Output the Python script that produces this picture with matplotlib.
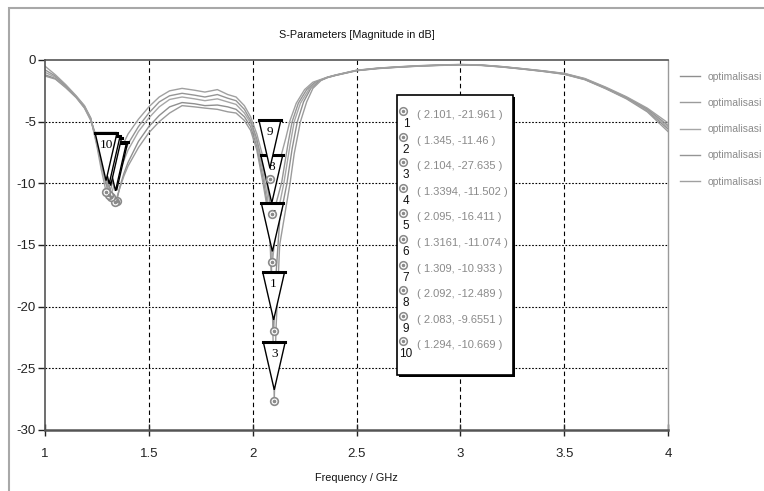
import matplotlib.pyplot as plt
from matplotlib.lines import Line2D
from matplotlib.patches import Polygon, Rectangle
from matplotlib.path import Path
from matplotlib.transforms import ScaledTranslation

W, H = 764, 491
plt.rcParams["font.family"] = ["Liberation Sans", "DejaVu Sans"]
plt.rcParams["axes.unicode_minus"] = False

# S11 curves (frequency in GHz, magnitude in dB)
freq_1 = [1.0, 1.05, 1.10, 1.15, 1.19, 1.22, 1.25, 1.27, 1.29, 1.32, 1.345, 1.36, 1.38, 1.40,
          1.45, 1.50, 1.55, 1.60, 1.66, 1.72, 1.77, 1.83, 1.88, 1.92, 1.96, 1.99, 2.02, 2.05,
          2.07, 2.085, 2.095, 2.101, 2.11, 2.13, 2.165, 2.19, 2.215, 2.245, 2.28, 2.32,
          2.36, 2.4, 2.5, 2.6, 2.7, 2.8, 2.9, 3.0, 3.1, 3.2, 3.3, 3.4, 3.5, 3.6, 3.7, 3.8,
          3.9, 4.0]
db_1 = [-1.2, -1.5, -2.2, -3.0, -3.85, -4.8, -6.4, -7.9, -9.2, -10.8, -11.46, -10.3, -9.2,
        -8.3, -6.6, -5.4, -4.5, -3.8, -3.45, -3.55, -3.7, -3.65, -3.8, -4.0, -4.6, -5.4, -7.0,
        -9.6, -11.6, -14.6, -18.8, -21.961, -18.0, -13.0, -10.0, -7.2, -5.0, -3.4, -2.3, -1.7,
        -1.42, -1.24, -0.86, -0.69, -0.58, -0.49, -0.43, -0.39, -0.43, -0.56, -0.73, -0.92,
        -1.14, -1.58, -2.3, -3.1, -4.1, -5.6]

freq_2 = [1.0, 1.05, 1.10, 1.15, 1.19, 1.22, 1.25, 1.27, 1.29, 1.315, 1.3394, 1.36, 1.38,
          1.40, 1.45, 1.50, 1.55, 1.60, 1.66, 1.72, 1.77, 1.83, 1.88, 1.92, 1.96, 1.99, 2.02,
          2.05, 2.07, 2.085, 2.095, 2.104, 2.112, 2.13, 2.18, 2.20, 2.23, 2.26, 2.29, 2.33,
          2.36, 2.4, 2.5, 2.6, 2.7, 2.8, 2.9, 3.0, 3.1, 3.2, 3.3, 3.4, 3.5, 3.6, 3.7, 3.8,
          3.9, 4.0]
db_2 = [-1.3, -1.55, -2.25, -3.05, -3.9, -4.9, -6.5, -8.0, -9.3, -10.7, -11.502, -10.4,
        -9.4, -8.6, -7.1, -5.9, -5.0, -4.3, -3.7, -3.8, -3.9, -4.0, -4.2, -4.3, -4.9, -5.7,
        -7.3, -10.0, -12.0, -15.2, -20.0, -27.635, -22.0, -15.0, -10.0, -7.6, -5.0, -3.4,
        -2.3, -1.65, -1.43, -1.25, -0.87, -0.7, -0.59, -0.5, -0.44, -0.4, -0.44, -0.57,
        -0.74, -0.93, -1.16, -1.6, -2.33, -3.15, -4.2, -5.8]

freq_3 = [1.0, 1.05, 1.10, 1.15, 1.19, 1.22, 1.25, 1.27, 1.29, 1.3161, 1.335, 1.36, 1.40,
          1.45, 1.50, 1.55, 1.60, 1.66, 1.72, 1.77, 1.83, 1.88, 1.92, 1.96, 1.99, 2.02, 2.05,
          2.07, 2.085, 2.095, 2.105, 2.12, 2.15, 2.18, 2.20, 2.23, 2.27, 2.31,
          2.36, 2.4, 2.5, 2.6, 2.7, 2.8, 2.9, 3.0, 3.1, 3.2, 3.3, 3.4, 3.5, 3.6, 3.7, 3.8,
          3.9, 4.0]
db_3 = [-1.0, -1.4, -2.15, -3.0, -3.8, -4.8, -6.6, -8.2, -9.6, -11.074, -10.0, -9.0, -7.3,
        -5.8, -4.7, -3.8, -3.2, -3.0, -3.15, -3.3, -3.15, -3.4, -3.6, -4.3, -5.1, -6.7, -9.1,
        -11.0, -13.2, -16.411, -14.8, -12.5, -10.0, -6.9, -5.0, -3.5, -2.4, -1.75,
        -1.41, -1.23, -0.85, -0.68, -0.57, -0.48, -0.42, -0.38, -0.42, -0.55, -0.72, -0.9,
        -1.12, -1.55, -2.27, -3.07, -4.05, -5.45]

freq_4 = [1.0, 1.05, 1.10, 1.15, 1.19, 1.22, 1.25, 1.27, 1.29, 1.309, 1.33, 1.36, 1.40,
          1.45, 1.50, 1.55, 1.60, 1.66, 1.72, 1.77, 1.83, 1.88, 1.92, 1.96, 1.99, 2.02, 2.05,
          2.07, 2.092, 2.11, 2.14, 2.17, 2.19, 2.22, 2.26, 2.30,
          2.36, 2.4, 2.5, 2.6, 2.7, 2.8, 2.9, 3.0, 3.1, 3.2, 3.3, 3.4, 3.5, 3.6, 3.7, 3.8,
          3.9, 4.0]
db_4 = [-0.8, -1.3, -2.1, -2.95, -3.75, -4.7, -6.8, -8.4, -9.8, -10.933, -9.6, -8.6, -6.8,
        -5.4, -4.3, -3.4, -2.9, -2.7, -2.85, -3.0, -2.8, -3.1, -3.3, -4.0, -4.9, -6.4, -8.6,
        -10.2, -12.489, -11.8, -9.9, -6.8, -5.0, -3.5, -2.4, -1.8,
        -1.4, -1.22, -0.84, -0.67, -0.56, -0.47, -0.41, -0.37, -0.41, -0.54, -0.71, -0.89,
        -1.1, -1.53, -2.24, -3.03, -3.97, -5.3]

freq_5 = [1.0, 1.05, 1.10, 1.15, 1.19, 1.22, 1.25, 1.27, 1.294, 1.31, 1.33, 1.36, 1.40,
          1.45, 1.50, 1.55, 1.60, 1.66, 1.72, 1.77, 1.83, 1.88, 1.92, 1.96, 1.99, 2.02, 2.05,
          2.07, 2.083, 2.10, 2.13, 2.16, 2.18, 2.21, 2.25, 2.29,
          2.36, 2.4, 2.5, 2.6, 2.7, 2.8, 2.9, 3.0, 3.1, 3.2, 3.3, 3.4, 3.5, 3.6, 3.7, 3.8,
          3.9, 4.0]
db_5 = [-0.5, -1.2, -2.0, -2.9, -3.7, -4.7, -7.0, -8.8, -10.669, -9.7, -8.5, -7.4, -6.0,
        -4.8, -3.8, -3.0, -2.5, -2.3, -2.45, -2.6, -2.4, -2.8, -3.0, -3.7, -4.6, -6.0, -7.9,
        -9.0, -9.6551, -9.3, -8.2, -6.3, -4.9, -3.5, -2.4, -1.8,
        -1.39, -1.21, -0.83, -0.66, -0.55, -0.46, -0.4, -0.36, -0.4, -0.53, -0.7, -0.88,
        -1.08, -1.5, -2.2, -2.98, -3.9, -5.1]

CURVES = [(freq_1, db_1), (freq_2, db_2), (freq_3, db_3), (freq_4, db_4), (freq_5, db_5)]
CURVE_COLORS = ["#8f8f8f", "#9b9b9b", "#a6a6a6", "#959595", "#a0a0a0"]
LEGEND_LABELS = ["optimalisasi"] * 5

# markers 1..10
MARKER_FREQ = [2.101, 1.345, 2.104, 1.3394, 2.095, 1.3161, 1.309, 2.092, 2.083, 1.294]
MARKER_DB = [-21.961, -11.46, -27.635, -11.502, -16.411, -11.074, -10.933, -12.489,
             -9.6551, -10.669]
MARKER_TEXT = ["( 2.101, -21.961 )", "( 1.345, -11.46 )", "( 2.104, -27.635 )",
               "( 1.3394, -11.502 )", "( 2.095, -16.411 )", "( 1.3161, -11.074 )",
               "( 1.309, -10.933 )", "( 2.092, -12.489 )", "( 2.083, -9.6551 )",
               "( 1.294, -10.669 )"]

X_TICKS = [1, 1.5, 2, 2.5, 3, 3.5, 4]
X_TICK_LABELS = ["1", "1.5", "2", "2.5", "3", "3.5", "4"]
Y_TICKS = [0, -5, -10, -15, -20, -25, -30]

# triangle flag shape, inches relative to the marked point
TRI = [(-0.11, 0.59), (0.11, 0.59), (0.0, 0.11)]
TRI_LABEL = (0.0, 0.47)


def fx(px):
    return px / W


def fy(py):
    return 1 - py / H


fig = plt.figure(figsize=(W / 100, H / 100), dpi=100)
ax = fig.add_axes([fx(45), fy(430), fx(668) - fx(45), fy(60) - fy(430)])
ax.set_xlim(1, 4)
ax.set_ylim(-30, 0)

# grid: dotted horizontal, dashed vertical
for y in Y_TICKS[1:-1]:
    ax.axhline(y, color="black", lw=0.8, ls=(0, (1.5, 1.5)), zorder=1)
for x in X_TICKS[1:-1]:
    ax.axvline(x, color="black", lw=0.8, ls=(0, (4, 3)), zorder=1)

for (f, db), col, lab in zip(CURVES, CURVE_COLORS, LEGEND_LABELS):
    ax.plot(f, db, color=col, lw=1.0, label=lab, zorder=2)

# triangle flags, later ones drawn on top; skip numbers hidden under a later flag
transforms = [fig.dpi_scale_trans + ScaledTranslation(f, db, ax.transData)
              for f, db in zip(MARKER_FREQ, MARKER_DB)]
tri_paths = [Path(tr.transform(TRI)) for tr in transforms]
for i, tr in enumerate(transforms):
    z = 3 + i * 0.1
    ax.add_patch(Polygon(TRI, closed=True, facecolor="white", edgecolor="black", lw=1.0,
                         transform=tr, zorder=z, clip_on=False))
    ax.add_line(Line2D([TRI[0][0], TRI[1][0]], [TRI[0][1], TRI[1][1]], color="black",
                       lw=2.2, transform=tr, zorder=z + 0.01))
    label_disp = tr.transform(TRI_LABEL)
    if any(p.contains_point(label_disp) for p in tri_paths[i + 1:]):
        continue
    ax.text(*TRI_LABEL, str(i + 1), transform=tr, ha="center", va="center",
            fontsize=9.5, family="Liberation Serif", zorder=z + 0.02)

ax.plot(MARKER_FREQ, MARKER_DB, ls="none", marker="o", ms=5.5, mfc="white",
        mec="#8a8a8a", mew=1.2, zorder=5)
ax.plot(MARKER_FREQ, MARKER_DB, ls="none", marker="o", ms=1.6, mfc="#8a8a8a",
        mec="#8a8a8a", zorder=5.1)

ax.set_xticks(X_TICKS)
ax.set_xticklabels(X_TICK_LABELS)
ax.set_yticks(Y_TICKS)
ax.tick_params(axis="x", direction="inout", length=8, width=1, pad=9, labelsize=9.5,
               colors="#222222")
ax.tick_params(axis="y", direction="out", length=5, width=1, pad=1.5, labelsize=9.5,
               colors="#222222")
for side in ["top", "left"]:
    ax.spines[side].set_color("#555555")
    ax.spines[side].set_linewidth(1.2)
ax.spines["bottom"].set_color("#555555")
ax.spines["bottom"].set_linewidth(1.8)
ax.spines["right"].set_color("#9a9a9a")
ax.spines["right"].set_linewidth(1.0)

fig.text(fx(356.5), fy(35), "S-Parameters [Magnitude in dB]", ha="center", va="center",
         fontsize=7.8, color="#111111")
fig.text(fx(356.5), fy(478), "Frequency / GHz", ha="center", va="center",
         fontsize=7.8, color="#111111")

leg = ax.legend(loc="upper left", bbox_to_anchor=(fx(680), fy(72)),
                bbox_transform=fig.transFigure, frameon=False, fontsize=7.5,
                handlelength=1.9, handletextpad=0.8, labelspacing=1.55,
                borderpad=0, borderaxespad=0, labelcolor="#8a8a8a")

# marker list box
fig.add_artist(Rectangle((fx(399), fy(377)), fx(116), fy(97) - fy(377),
                         transform=fig.transFigure, facecolor="black", edgecolor="none",
                         zorder=6))
fig.add_artist(Rectangle((fx(397), fy(375)), fx(116), fy(95) - fy(375),
                         transform=fig.transFigure, facecolor="white", edgecolor="black",
                         lw=1.2, zorder=6.1))
for i, txt in enumerate(MARKER_TEXT):
    row_y = 115 + 25.6 * i
    fig.add_artist(Line2D([fx(403)], [fy(row_y - 4)], marker="o", ms=5.5, mfc="white",
                          mec="#8a8a8a", mew=1.1, transform=fig.transFigure, zorder=7))
    fig.add_artist(Line2D([fx(403)], [fy(row_y - 4)], marker="o", ms=1.5, mfc="#8a8a8a",
                          mec="#8a8a8a", transform=fig.transFigure, zorder=7.1))
    fig.text(fx(406), fy(row_y + 9), str(i + 1), ha="center", va="center", fontsize=8.5,
             color="#111111", zorder=7)
    fig.text(fx(417), fy(row_y), txt, ha="left", va="center", fontsize=8,
             color="#8a8a8a", zorder=7)

# outer frame
fig.add_artist(Rectangle((fx(9), fy(H + 20)), fx(W + 40), fy(8) - fy(H + 20),
                         transform=fig.transFigure, facecolor="none", edgecolor="#a8a8a8",
                         lw=1.5, zorder=0))

fig.savefig("out.png", dpi=100)
